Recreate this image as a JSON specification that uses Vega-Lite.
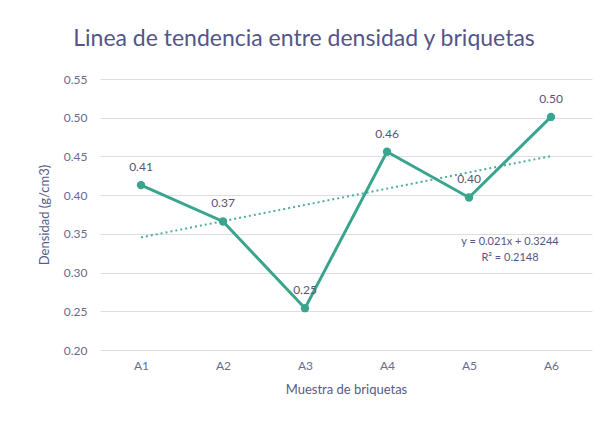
{
  "$schema": "https://vega.github.io/schema/vega-lite/v6.json",
  "width": 492,
  "height": 271,
  "autosize": {"type": "none"},
  "padding": {"left": 100, "top": 79, "right": 11, "bottom": 76},
  "background": "white",
  "title": {
    "text": "Linea de tendencia entre densidad y briquetas",
    "font": "Lato",
    "fontSize": 23,
    "fontWeight": "normal",
    "color": "#55558a",
    "anchor": "middle",
    "dx": -42,
    "offset": 22
  },
  "config": {
    "view": {"stroke": null},
    "font": "Lato",
    "axisY": {
      "values": [0.2, 0.25, 0.3, 0.35, 0.4, 0.45, 0.5, 0.55],
      "format": ".2f",
      "labelFontSize": 12,
      "labelColor": "#6a6a8c",
      "labelPadding": 13,
      "ticks": false,
      "domain": false,
      "gridColor": "#dcdce8",
      "gridWidth": 1,
      "titleFontSize": 13,
      "titleFontWeight": "normal",
      "titleColor": "#5a5a88",
      "titlePadding": 12
    }
  },
  "datasets": {
    "obs": [
      {"muestra": "A1", "densidad": 0.413, "etiqueta": "0.41", "tendencia": 0.3454},
      {"muestra": "A2", "densidad": 0.366, "etiqueta": "0.37", "tendencia": 0.3664},
      {"muestra": "A3", "densidad": 0.254, "etiqueta": "0.25", "tendencia": 0.3874},
      {"muestra": "A4", "densidad": 0.456, "etiqueta": "0.46", "tendencia": 0.4084},
      {"muestra": "A5", "densidad": 0.397, "etiqueta": "0.40", "tendencia": 0.4294},
      {"muestra": "A6", "densidad": 0.501, "etiqueta": "0.50", "tendencia": 0.4504}
    ],
    "ecuacion": [
      {"muestra": "A6", "y": 0.3395, "texto": "y = 0.021x + 0.3244"},
      {"muestra": "A6", "y": 0.3185, "texto": "R² = 0.2148"}
    ]
  },
  "encoding": {
    "x": {
      "field": "muestra",
      "type": "ordinal",
      "title": "Muestra de briquetas",
      "scale": {"type": "point", "padding": 0.5},
      "axis": {
        "labelAngle": 0,
        "labelFontSize": 12,
        "labelColor": "#6a6a8c",
        "labelPadding": 10,
        "ticks": false,
        "domain": false,
        "titleFontSize": 13,
        "titleFontWeight": "normal",
        "titleColor": "#5a5a88",
        "titlePadding": 12
      }
    }
  },
  "layer": [
    {
      "data": {"name": "obs"},
      "mark": {"type": "line", "color": "#3aa58e", "strokeWidth": 3, "point": {"filled": true, "size": 70, "color": "#3aa58e"}},
      "encoding": {
        "y": {
          "field": "densidad",
          "type": "quantitative",
          "title": "Densidad (g/cm3)",
          "scale": {"domain": [0.2, 0.55], "nice": false, "zero": false}
        }
      }
    },
    {
      "data": {"name": "obs"},
      "mark": {"type": "line", "color": "#3aa58e", "strokeWidth": 2, "strokeDash": [2, 3], "opacity": 0.9},
      "encoding": {
        "y": {"field": "tendencia", "type": "quantitative", "title": "Densidad (g/cm3)", "scale": {"domain": [0.2, 0.55], "nice": false, "zero": false}}
      }
    },
    {
      "data": {"name": "obs"},
      "mark": {"type": "text", "dy": -18, "fontSize": 12, "color": "#555577"},
      "encoding": {
        "y": {"field": "densidad", "type": "quantitative", "title": "Densidad (g/cm3)", "scale": {"domain": [0.2, 0.55], "nice": false, "zero": false}},
        "text": {"field": "etiqueta"}
      }
    },
    {
      "data": {"name": "ecuacion"},
      "mark": {"type": "text", "dx": -41, "fontSize": 11, "color": "#555588"},
      "encoding": {
        "y": {"field": "y", "type": "quantitative", "title": "Densidad (g/cm3)", "scale": {"domain": [0.2, 0.55], "nice": false, "zero": false}},
        "text": {"field": "texto"}
      }
    }
  ]
}
